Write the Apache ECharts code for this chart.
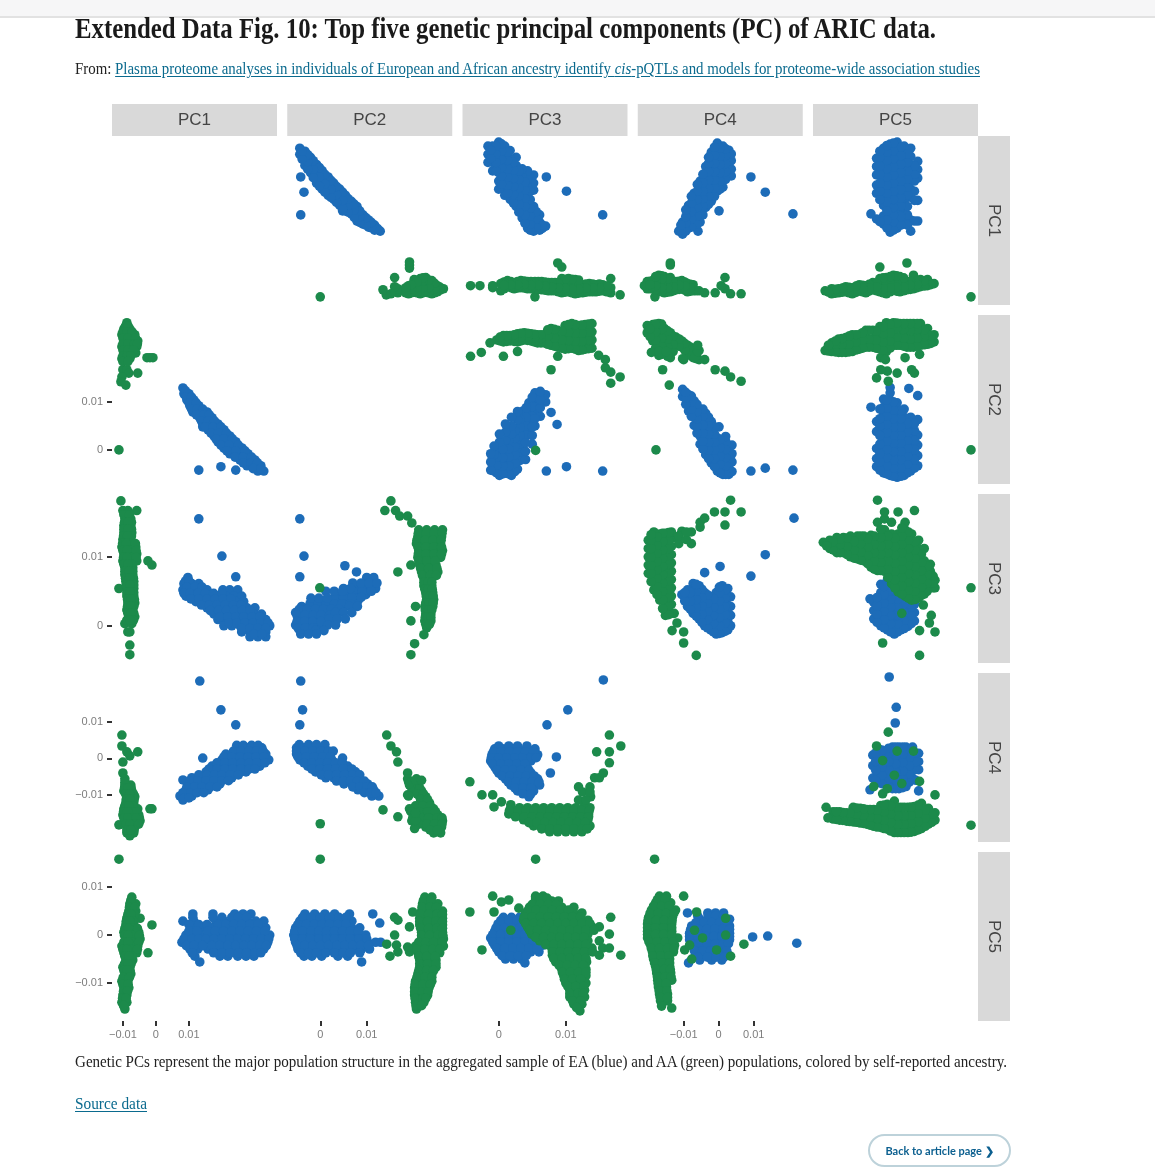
<!DOCTYPE html>
<html>
<head>
<meta charset="utf-8">
<script src="https://cdn.jsdelivr.net/npm/echarts@6/dist/echarts.min.js"></script>
<style>
html,body{margin:0;padding:0;background:#fff;width:1155px;height:1174px;overflow:hidden}
#topbar{position:absolute;left:0;top:0;width:1155px;height:16px;background:#f6f6f7;border-bottom:2px solid #e2e2e2}
#chart{position:absolute;left:0;top:0;width:1155px;height:1174px}
.t{position:absolute;white-space:nowrap;transform-origin:0 50%;font-family:"Liberation Serif",serif;color:#222;z-index:2}
.t a{color:#0a6a8e;text-decoration:underline;text-underline-offset:2px}
#title{left:75px;top:12px;font-size:29px;line-height:32px;font-weight:700;color:#1a1a1a}
#from{left:75px;top:60px;font-size:17px;line-height:18px}
#cap{left:75px;top:1053px;font-size:17px;line-height:18px}
#src{left:75px;top:1095px;font-size:17px;line-height:18px}
#btn{position:absolute;left:868px;top:1134px;width:139px;height:29px;border:2px solid #bdd2da;border-radius:17px;z-index:2;
 font-family:Lato,sans-serif;font-weight:700;font-size:11px;line-height:29px;text-align:center;color:#0b5f8f}
</style>
</head>
<body>
<div id="topbar"></div>
<div id="chart"></div>
<div class="t" id="title" data-w="861">Extended Data Fig. 10: Top five genetic principal components (PC) of ARIC data.</div>
<div class="t" id="from" data-w="905">From: <a>Plasma proteome analyses in individuals of European and African ancestry identify <i>cis</i>-pQTLs and models for proteome-wide association studies</a></div>
<div class="t" id="cap" data-w="932">Genetic PCs represent the major population structure in the aggregated sample of EA (blue) and AA (green) populations, colored by self-reported ancestry.</div>
<div class="t" id="src" data-w="72"><a>Source data</a></div>
<div id="btn">Back to article page ❯</div>
<script>
// Each row is [value on the later PC, values on the earlier PC...].
const pcNames = ['PC1','PC2','PC3','PC4','PC5'];
const xRanges = [[-133,367],[-71,284],[-54,192],[-231,240],[-180,173]];
const yRanges = [[-136,363],[-71,281],[-54,191],[-229,234],[-179,173]];
const xTicks = [[-100,0,100],[0,100],[0,100],[-100,0,100],[]];
const yTicks = [[],[0,100],[0,100],[-100,0,100],[-100,0,100]];

const pc1pc2Blue = [[129,82],[117,85,100],[104,94,115],[92,103,130],[79,112,133,155],[67,133,152,170],[54,142,164,188],[42,158,182,206],[29,176,200,224],[17,188,212,242],[4,206,233,261],[-8,224,251,279],[-21,255,279,300],[-33,276,297,318],[-44,309,327],[-42,130,242],[-35,197],
 [123,90],[110,92,108],[98,100,122],[85,108,125,142],[73,123,145,162],[60,138,158,178],[48,142,150,173,197],[35,167,190,214],[23,182,206,232],[10,197,222,250],[-2,215,242,270],[-15,240,265,290],[-27,265,288,308],[-39,295,318]];
const pc1pc2Green = [[265,-88],[252,-97,-79],[240,-103,-79,-64],[227,-97,-73,-55],[215,-103,-79,-58],[202,-97,-73,-61],[190,-103,-79],[192,-27,-18,-9],[167,-100,-88],[160,-82,-55],[152,-103],[142,-106],[135,-91],[0,-112],
 [258,-92,-84],[246,-100,-88,-72],[233,-100,-85,-62],[221,-100,-85,-65,-56],[208,-100,-85,-68],[196,-100,-88,-76],[184,-100,-85]];
const pc1pc3Blue = [[155,130],[101,200],[71,242],[70,97],[61,85,109,130],[52,82,106,130,155,203,224,248],[43,91,115,139,164,188,212,236,260],[35,121,145,170,194,218,242,266],[26,155,179,203,227,251,276,300],[17,176,200,224,248,273,297,320],[9,188,212,236,261,285,309,333],[0,206,230,255,279,303,327,345],[-9,260,285,309,333],[-16,285,309,333],
 [65,90,100],[56,94,118,140],[47,85,103,127,150,175,200],[39,106,130,155,179,203,227],[30,138,162,186,210,235,259],[22,165,190,214,238,262,285],[13,194,218,242,266,291,315],[4,221,245,270,294,318,340],[-4,260,285,309,333],[-12,297,321]];
const pc1pc3Green = [[181,-106],[167,-100,-85,-58],[155,-94,-76],[145,-97,-76],[135,-97,-73],[125,-100,-76],[114,-103,-82,-61],[104,-97,-73,-58],[94,-100,-76,-58,-24],[88,-12],[84,-94,-70],[74,-94,-70],[64,-91,-67],[54,-112,-88,-67],[43,-88,-67],[33,-85,-64],[23,-88,-70],[13,-82,-64],[3,-94,-73],[-9,-85,-79],[-28,-79],[-42,-79],
 [161,-97,-80],[150,-95,-74,-85],[140,-97,-74,-85],[130,-98,-74,-86],[119,-101,-78,-62,-90],[109,-100,-78,-60,-88],[99,-98,-75,-60,-87],[89,-97,-73,-85],[79,-94,-70,-82],[69,-92,-68,-80],[59,-90,-67,-78],[48,-88,-67,-78],[38,-86,-65,-75],[28,-86,-67,-76],[18,-85,-67,-76],[8,-88,-68,-78]];
const pc2pc3Blue = [[155,-44],[101,-35],[71,-44],[87,53],[78,78],[62,115],[54,81,98,119],[45,46,63,81,98],[36,-5,12,29,46,63,81],[28,-40,-23,-5,12,29,46],[19,-53,-35,-18,-1,16],[10,-48,-31,-14,3],[1,-53,-35,-18,-1],[-7,-44,-27],
 [58,90,108],[50,70,90,110],[41,30,50,68,88],[32,-22,-5,12,30,47,64],[24,-45,-28,-10,7,24,40],[15,-50,-33,-15,2,20],[6,-50,-33,-16,2],[-3,-48,-32,-15],
 [70,100,115],[62,70,88,105,122],[54,50,65],[50,12,30,48],[40,-20,-3,15],[28,63,80],[19,33,50,68],[10,20,37,54],[1,16,33],[-7,-10,8],[-12,-42,-25,-8]];
const pc2pc3Green = [[181,152],[167,139,162],[159,171,188],[149,197],[139,212,229,246,263],[129,210,227,244,261],[119,207,225,242,259],[109,212,229,246,263],[99,210,227,244,259],[88,195,214,231,249],[78,167,218,235,253],[68,223,240],[58,223,240],[48,227,242],[38,229,244],[28,205,225,242],[17,227,238],[7,195,225,238],[-3,229],[-13,223],[-26,203],[-42,195],[55,-1],
 [134,211,228,245,262],[124,208,226,243,260],[114,210,227,244,261],[104,211,228,245,261],[94,212,229,247],[83,216,233,251],[73,220,237,250],[63,223,232,240],[53,225,233,241],[43,228,236,243],[33,227,235,243],[23,226,233,240],[12,226,232,238],[2,227,235]];
const pc1pc4Blue = [[212,133],[133,197],[92,242],[1,142],[29,255,279,303,321],[12,212,236,261,285,309,333],[-4,200,224,248,273,297,321,342],[-21,170,194,218,242,267,291,315],[-37,152,176,200,224,248,273],[-53,109,133,158,182,206,230],[-70,97,121,145,170,194],[-86,91,115,133,158],[-103,73,97,109],[-114,82],[-59,82],
 [36,245,265,290,310],[20,235,258,282,305,325],[4,206,230,255,279,303,327],[-12,185,209,233,258,282,306,330],[-29,161,185,209,233,258,282,300],[-45,130,155,178,200,225,250],[-61,103,127,152,176,200,220],[-78,94,118,140,165,185],[-94,82,106,125,145],[-108,85,100]];
const pc1pc4Green = [[64,-103],[34,-103],[18,-88,-55],[7,-79],[-10,-100],[-40,-100],[-56,-94],[-73,-94,-76],[-89,-97,-73],[-105,-88,-64],[-122,-91,-67],[-138,-97,-73,-55,-18,-12],[-155,-100,-76,-52],[-171,-94,-70,-48],[-182,-112],[-188,-88,-64],[-204,-88,-67],[-212,-79],
 [-65,-94],[-81,-95,-75,-85],[-97,-92,-68,-80],[-113,-90,-66,-78],[-130,-94,-70,-82],[-146,-98,-74,-60,-86],[-163,-97,-73,-50,-85,-60],[-180,-91,-67,-79,-52],[-196,-88,-66,-76]];
const pc2pc4Blue = [[212,-42],[133,-38],[92,-44],[1,48],[29,-51,-33,-16,1],[12,-51,-33,-16,1,18],[-4,-44,-27,-10,8,25],[-21,-27,-10,8,25,42,59],[-37,-10,8,25,42,59,76],[-53,12,29,46,63,81],[-70,51,68,85,102],[-86,81,98,115],[-103,111,126],
 [38,-45,-25,-8,10],[20,-51,-33,-16,1,18,28],[4,-48,-30,-13,5,22],[-12,-35,-18,0,16,33,48],[-29,-18,0,16,33,50,68],[-45,2,18,35,52,70,85],[-62,35,50,65,80,95],[-78,70,85,100,112],[-94,95,108,120]];
const pc2pc4Green = [[64,143],[34,152],[18,164],[-10,167],[-40,188],[-56,188,207],[-73,192,210],[-89,203,218],[-100,188],[-105,214,227],[-122,218,235],[-138,192,210,227,244],[-155,201,218,235,253],[-141,135],[-160,167],[-171,197,214,231,249,263],[-188,227,244,261],[-204,244,259],[-179,0],
 [-64,190,208],[-81,197,214],[-97,208,222],[-113,216,231],[-130,205,220,237],[-146,195,197,214,231,248],[-163,199,216,233,251,262],[-180,212,229,246,262],[-196,236,252],[-192,203],[-170,205],[-150,205],[-103,190],[-69,192],[-60,205,218]];
const pc3pc4Blue = [[215,156],[133,103],[92,72],[4,86],[-40,77],[26,-6,6,18,30,42,54],[10,-10,1,13,25,37,49,58],[-7,-12,0,12,24,36,48],[-23,-6,6,18,30,42],[-40,0,12,24,36,48],[-56,10,22,34,46,58],[-73,18,30,42,54,61],[-89,28,40,52],[-105,45],
 [34,0,15,28,42],[18,-8,4,16,28,40,52],[2,-11,0,12,24,36,48,56],[-15,-9,3,15,27,39],[-32,-3,9,21,33,45],[-48,5,17,29,41,53],[-64,14,26,38,50,60],[-81,24,36,48],[-97,36,48]];
const pc3pc4Green = [[-64,-43],[-100,-25,-9],[-133,-7],[-119,4,127],[-127,18],[-135,18,31,43,55,67,79,91,103,115,127,136],[-152,15,27,39,51,63,75,87,98,110,122,134],[-168,37,49,61,73,85,97,109,121,133],[-185,52,64,76,88,100,112,124,136],[-201,76,88,100,112,124],[-78,119,136],[-105,137],[-53,143,150],[-40,156],[-12,165],[18,146,165],[34,182],[64,165],
 [-143,16,29,41,53,65,77,89,101,112,124,135],[-160,25,38,50,62,74,86,98,110,122,134],[-176,45,57,69,81,93,105,117,129],[-193,64,76,88,100,112,124,132],[-114,119,130],[-92,125,136]];
const pc1pc5Blue = [[44,112,173,239,264,288],[29,82,115,182,206,230,255,279,303,327],[15,109,145,170,194,218,242,267,291,315,333],[0,91,115,133,158,182,206,230,255,279,303,327,345],[-15,79,103,127,145,170,194,218,242,267,291,315,339],[-29,103,127,158,182,206,230,255,279,303,327],[-44,118,194,218,248,273,297],[-56,133],
 [37,112,173,200,230,250,275],[22,100,130,155,190,212,236,260,285,310],[8,100,125,157,180,205,230,255,280,305,330],[-8,85,110,130,152,176,200,224,248,272,296,320,342],[-22,92,115,142,170,194,218,242,267,291,315,335],[-37,110,175,200,224,250,275,300,318]];
const pc1pc5Green = [[158,-112],[79,-73],[65,-79,-61],[50,-82,-61],[35,-88,-67,-48],[21,-91,-67,-12],[6,-97,-76,-52],[-8,-91,-67,-48],[-23,-103,-79,-55],[-37,-97,-73,-58,-24],[-52,-91,-70],[-67,-100,-79],[-81,-94,-76],[-96,-103,-85],[-110,-97,-82],[-125,-100,-88],[-140,-103,-88],[-154,-94],
 [72,-76],[58,-80,-64],[43,-85,-64,-75],[28,-90,-67,-78],[14,-94,-72,-56,-83],[-1,-95,-72,-50,-84],[-15,-97,-73,-52,-85],[-30,-100,-76,-56,-88],[-44,-94,-72,-82],[-60,-95,-75,-85],[-74,-97,-78,-87],[-88,-99,-80],[-103,-100,-84],[-117,-98,-86],[-132,-101,-90],[-147,-98]];
const pc2pc5Blue = [[44,-33,-12,10,31,63,113],[29,-44,-27,-10,8,25,42,68],[25,128],[15,-53,-35,-18,-1,16,33,51,68,85],[0,-57,-40,-23,-5,12,29,46,63,81,98],[-15,-53,-35,-18,-1,16,33,51,68,85,102,119,130],[-29,-48,-31,-14,3,20,38,55,72,89,106],[-44,-35,-18,3,38,59],[-56,89],
 [37,-38,-20,0,20,40,55],[22,-48,-30,-13,4,20,38,55],[8,-55,-38,-20,-3,14,31,48,65,82],[-8,-55,-38,-21,-3,14,31,48,65,83,100],[-22,-50,-33,-16,1,18,36,53,70,87,104],[-37,-42,-25,-8,12,30,50,65,85]];
const pc2pc5Green = [[158,0],[79,225,240],[65,220,238,253],[50,218,235,253,263],[35,214,231,249,263],[21,214,231,249,263],[6,218,235,253,263],[-8,218,235,253,265],[-23,205,223,240,257,265],[-37,210,227,244,257],[-52,214,231,249],[-67,214,231,249],[-81,210,227,240],[-96,205,223,240],[-110,203,220,234],[-125,203,220,231],[-140,205,223],[-154,207],[48,199],[37,160],[31,167],[17,192],[0,160],[-19,143],[-21,164],[-35,167,192],[-44,150],[-25,188],
 [72,222,238],[58,219,236,250],[43,216,233,251,263],[28,214,231,249,263],[14,216,233,251,263],[-1,218,235,253,264],[-15,212,227,244,262],[-30,208,225,242,257],[-45,212,229,247],[-60,214,231,249],[-74,212,229,244],[-88,208,225,240],[-103,204,221,237],[-118,203,220,232],[-132,204,221,227],[-147,206,218]];
const pc3pc5Blue = [[37,7,19,31],[23,-1,10,22,34,46],[8,-6,6,18,30,42,54],[-6,-12,0,12,24,36,48,60],[-21,-6,6,18,30,42,54,66],[-35,0,12,24,36,48,60],[-50,10,22,34],[-58,39],
 [30,3,15,27,40],[15,-4,8,20,32,44,50],[1,-9,3,15,27,39,51],[-14,-9,3,15,27,39,51,63],[-28,-3,9,21,33,45,57],[-43,5,17,29,41]];
const pc3pc5Green = [[158,55],[48,-43,-7],[-31,-25],[69,4],[73,15],[56,30],[10,18],[81,-9,55,66],[71,55,67,79,89],[58,46,58,70,82,94,112],[46,40,52,64,76,88,100,112,124],[37,167],[31,37,49,61,73,85,97,109,121,133],[17,43,55,67,79,91,103,115,127,139,150],[2,49,61,73,85,97,109,121,133,165],[-12,61,73,85,97,109,121,133,150],[-27,79,91,103,115,127,139,155,165],[-42,80,92,104,116,128,150,182],[-56,85,97,109,121,131],[-71,94,106,118,130],[-85,97,109,121,130],[-100,100,112,124,130],[-115,106,118,128],[-129,106,118,128],[-144,112,124],[-158,121],
 [77,55,62,72],[64,50,62,74,86],[52,44,56,68,80,92,104],[38,38,50,62,74,86,98,110,122],[24,40,52,64,76,88,100,112,124,136],[10,46,58,70,82,94,106,118,130,142],[-5,55,67,79,91,103,115,127],[-20,70,82,94,106,118,130],[-35,80,92,104,116,128,140],[-49,82,94,106,118,130],[-63,90,102,114,126],[-78,95,107,119,130],[-92,98,110,122],[-107,103,115,127],[-122,106,118,126],[-137,110,122],[-151,116]];
const pc4pc5Blue = [[46,-89,-31,-9,14],[33,-54,-31,-9,14,31],[19,-77,-54,-31,-9,14,31],[4,-83,-60,-37,-14,9,31],[-10,-83,-60,-37,-14,9,31],[-25,-72,-49,-26,-3,20],[-40,-66,-43,-20,3,26],[-52,-54,-20,9],[-58,-86],[-4,97],[-2,140],[-17,223],
 [40,-60,-30,-9,14],[26,-65,-42,-20,3,25],[12,-80,-57,-34,-11,12,31],[-3,-83,-60,-37,-14,9,31],[-18,-78,-55,-32,-9,14,28],[-33,-69,-46,-23,0,23],[-46,-60,-32,-8,15]];
const pc4pc5Green = [[158,-183],[81,-169,-149,-100],[67,-180,-157,-137],[52,-192,-169,-146,-123],[37,-200,-177,-154,-132],[23,-203,-180,-157,-134],[8,-203,-180,-157,-134],[-6,-203,-180,-157,-134,-117],[-21,-194,-172,-149,-126],[-35,-189,-166,-143,-129],[-50,-186,-163,-140],[-65,-180,-157,-140],[-79,-177,-154,-137],[-94,-174,-152,-134],[-108,-172,-149],[-123,-169,-146],[-137,-166,-146],[-148,-163],[-152,-134],[48,-63],[-31,-97,-6],[10,-69],[-21,-83],[-50,-77],[0,20],[35,20],[-44,34],[-19,72],[-6,-46],
 [74,-175,-153],[60,-186,-163,-142],[45,-196,-173,-150,-128],[30,-202,-178,-155,-133],[15,-203,-180,-157,-134],[1,-203,-180,-157,-134],[-14,-199,-176,-153,-130],[-28,-192,-169,-146,-128],[-43,-188,-165,-142],[-58,-183,-160,-140],[-72,-178,-155,-138],[-87,-175,-153,-136],[-101,-173,-150],[-116,-170,-148],[-130,-167,-146]];

const pairs = {
  '0-1':[pc1pc2Blue,pc1pc2Green],'0-2':[pc1pc3Blue,pc1pc3Green],'1-2':[pc2pc3Blue,pc2pc3Green],
  '0-3':[pc1pc4Blue,pc1pc4Green],'1-3':[pc2pc4Blue,pc2pc4Green],'2-3':[pc3pc4Blue,pc3pc4Green],
  '0-4':[pc1pc5Blue,pc1pc5Green],'1-4':[pc2pc5Blue,pc2pc5Green],'2-4':[pc3pc5Blue,pc3pc5Green],'3-4':[pc4pc5Blue,pc4pc5Green]
};

const BLUE='#1d6cb8', GREEN='#1c8a4b', STRIP='#d9d9d9';
const COL0=112, COLSTEP=175.25, COLW=165, ROW0=136, ROWSTEP=179, ROWH=169;
const fmt=v=>{const n=Math.round(v*1e4)/1e4; return n===0?'0':(n<0?'\u2212'+(-n):String(n));};
const toE=v=>v/1e4;
function flatten(rows,swap){
  const out=[];
  rows.forEach(([b,...as])=>as.forEach(a=>out.push(swap?[toE(b),toE(a)]:[toE(a),toE(b)])));
  return out;
}
const grid=[],xAxis=[],yAxis=[],series=[],graphic=[];
let idx=0;
for(let r=0;r<5;r++){for(let c=0;c<5;c++){
  if(r===c)continue;
  const showX=r===4&&xTicks[c].length>0, showY=c===0&&yTicks[r].length>0;
  grid.push({left:COL0+COLSTEP*c,top:ROW0+ROWSTEP*r,width:COLW,height:ROWH,containLabel:false});
  const lab={color:'#7d7d7d',fontFamily:'Liberation Sans',fontSize:11,formatter:v=>fmt(v)};
  xAxis.push({gridIndex:idx,type:'value',position:'bottom',min:toE(xRanges[c][0]),max:toE(xRanges[c][1]),
    axisLine:{show:false,onZero:false},splitLine:{show:false},
    axisTick:{show:showX,length:5,lineStyle:{color:'#333',width:2},customValues:xTicks[c].map(toE)},
    axisLabel:{show:showX,margin:8,...lab,customValues:xTicks[c].map(toE)}});
  yAxis.push({gridIndex:idx,type:'value',position:'left',min:toE(yRanges[r][0]),max:toE(yRanges[r][1]),
    axisLine:{show:false,onZero:false},splitLine:{show:false},
    axisTick:{show:showY,length:5,lineStyle:{color:'#333',width:2},customValues:yTicks[r].map(toE)},
    axisLabel:{show:showY,margin:9,...lab,customValues:yTicks[r].map(toE)}});
  const key=Math.min(r,c)+'-'+Math.max(r,c), swap=c>r;
  ['EA','AA'].forEach((name,k)=>{
    series.push({name,type:'scatter',xAxisIndex:idx,yAxisIndex:idx,symbolSize:9.6,clip:false,silent:true,animation:false,
      itemStyle:{color:k?GREEN:BLUE,opacity:1},data:flatten(pairs[key][k],swap)});
  });
  idx++;
}}
pcNames.forEach((n,i)=>{
  const x=COL0+COLSTEP*i, y=ROW0+ROWSTEP*i;
  graphic.push({type:'rect',shape:{x,y:104,width:COLW,height:32},style:{fill:STRIP},silent:true});
  graphic.push({type:'text',x:x+COLW/2,y:120,style:{text:n,fill:'#444',font:'17px "Liberation Sans"',textAlign:'center',textVerticalAlign:'middle'},silent:true});
  graphic.push({type:'rect',shape:{x:978,y,width:32,height:ROWH},style:{fill:STRIP},silent:true});
  graphic.push({type:'text',x:994,y:y+ROWH/2,rotation:-Math.PI/2,style:{text:n,fill:'#444',font:'17px "Liberation Sans"',textAlign:'center',textVerticalAlign:'middle'},silent:true});
});
const chart=echarts.init(document.getElementById('chart'),null,{renderer:'canvas'});
chart.setOption({animation:false,backgroundColor:'transparent',grid,xAxis,yAxis,series,graphic});
document.querySelectorAll('.t').forEach(el=>{
  const w=el.getBoundingClientRect().width, target=+el.dataset.w;
  el.style.transform='scaleX('+(target/w)+')';
});
</script>
</body>
</html>
